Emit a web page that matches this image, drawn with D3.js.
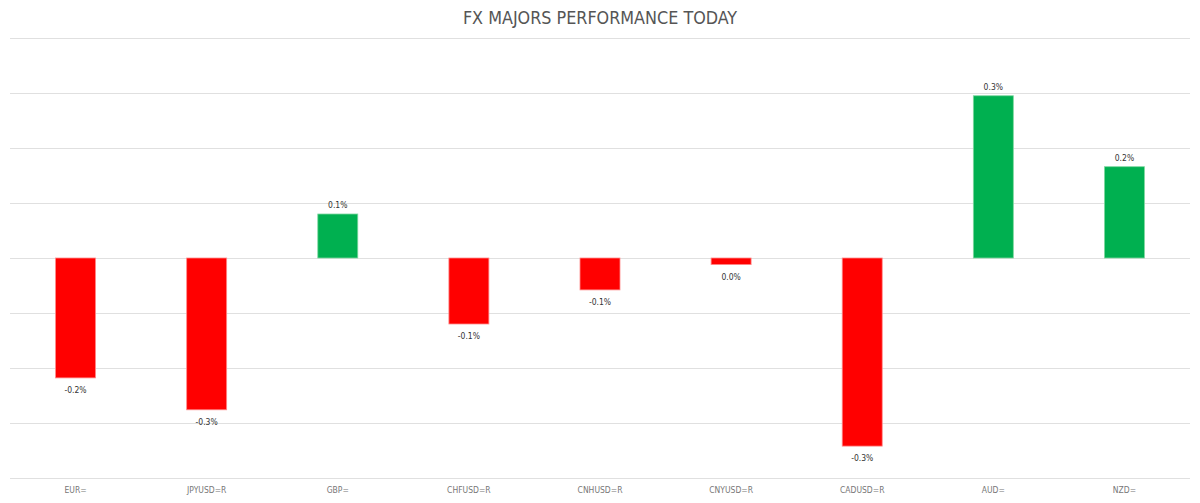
<!DOCTYPE html>
<html>
<head>
<meta charset="utf-8">
<script src="https://cdn.jsdelivr.net/npm/d3@7"></script>
<style>
html,body{margin:0;padding:0;background:#fff;}
svg{display:block;}
</style>
</head>
<body>
<svg id="chart" width="1200" height="503"></svg>
<script>
const categories = ["EUR=", "JPYUSD=R", "GBP=", "CHFUSD=R", "CNHUSD=R", "CNYUSD=R", "CADUSD=R", "AUD=", "NZD="];
const values = [-0.218, -0.276, 0.080, -0.120, -0.058, -0.012, -0.342, 0.295, 0.166];
const labels = ["-0.2%", "-0.3%", "0.1%", "-0.1%", "-0.1%", "0.0%", "-0.3%", "0.3%", "0.2%"];
const gridTicks = [-0.4, -0.3, -0.2, -0.1, 0, 0.1, 0.2, 0.3, 0.4];
const title = "FX MAJORS PERFORMANCE TODAY";

(function () {
const svg = d3.select("#chart");
const mLeft = 10, mRight = 1190, mTop = 38, mBottom = 478;

const x = d3.scaleBand().domain(categories).range([mLeft, mRight])
  .paddingInner(0.695).paddingOuter(0.3475);
const y = d3.scaleLinear().domain([-0.4, 0.4]).range([mBottom, mTop]);

svg.append("text")
  .attr("x", 600).attr("y", 24)
  .attr("text-anchor", "middle")
  .attr("font-family", "'DejaVu Sans Condensed', 'DejaVu Sans', sans-serif")
  .attr("font-size", 17.8)
  .attr("fill", "#555")
  .text(title);

const yAxis = d3.axisLeft(y).tickValues(gridTicks).tickSize(-(mRight - mLeft)).tickFormat("");
const gAxis = svg.append("g").attr("transform", `translate(${mLeft},0)`).call(yAxis);
gAxis.select(".domain").remove();
gAxis.selectAll(".tick line").attr("stroke", "#e0e0e0").attr("stroke-width", 1);

const xAxis = d3.axisBottom(x).tickSize(0).tickPadding(9);
const gx = svg.append("g").attr("transform", `translate(0,${mBottom})`).call(xAxis);
gx.select(".domain").remove();
gx.selectAll(".tick text")
  .attr("font-family", "'DejaVu Sans Condensed', 'DejaVu Sans', sans-serif")
  .attr("font-size", 8.5)
  .attr("fill", "#777");

const data = categories.map((c, i) => ({c, v: values[i], l: labels[i]}));

svg.append("g").selectAll("rect").data(data).join("rect")
  .attr("x", d => x(d.c))
  .attr("width", x.bandwidth())
  .attr("y", d => y(Math.max(0, d.v)))
  .attr("height", d => Math.abs(y(d.v) - y(0)))
  .attr("fill", d => d.v >= 0 ? "#00b050" : "#ff0000")
  .attr("stroke", d => d.v >= 0 ? "#7fd8a0" : "#ff8a8a")
  .attr("stroke-width", 0.8);

svg.append("g").selectAll("text").data(data).join("text")
  .attr("x", d => x(d.c) + x.bandwidth() / 2)
  .attr("y", d => d.v >= 0 ? y(d.v) - 6 : y(d.v) + 15)
  .attr("text-anchor", "middle")
  .attr("font-family", "'DejaVu Sans Condensed', 'DejaVu Sans', sans-serif")
  .attr("font-size", 8.5)
  .attr("fill", "#333")
  .text(d => d.l);
})();
</script>
</body>
</html>
